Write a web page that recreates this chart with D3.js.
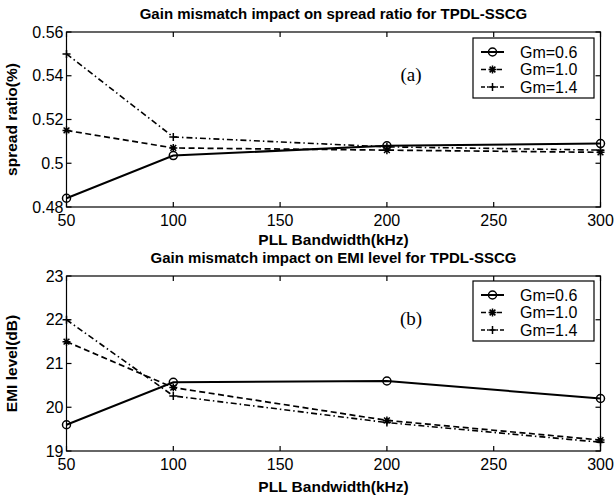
<!DOCTYPE html>
<html>
 <head>
   <title>Gain mismatch impact</title>
   <script type="text/javascript" src="https://d3js.org/d3.v7.min.js"></script>
   <style type="text/css">
		body { margin: 0; background: #fff; }
		svg { display: block; }
		text { font-family: "Liberation Sans", Arial, sans-serif; fill: #000; }
		.frame { fill: none; stroke: #000; stroke-width: 1.2; }
		.tick { stroke: #000; stroke-width: 1.2; }
		.series { fill: none; stroke: #000; }
		.mark { fill: none; stroke: #000; stroke-width: 1.5; }
   </style>
 </head>
 <body>
   <div class="main"></div>
   <script type="text/javascript">

	// data
	var bandwidth = [50, 100, 200, 300];
	var xTicks = [50, 100, 150, 200, 250, 300];
	var seriesNames = ['Gm=0.6', 'Gm=1.0', 'Gm=1.4'];

	var spreadGm06 = [0.484, 0.5035, 0.508, 0.509];
	var spreadGm10 = [0.515, 0.507, 0.506, 0.505];
	var spreadGm14 = [0.550, 0.512, 0.5075, 0.506];
	var spreadTicks = [0.48, 0.5, 0.52, 0.54, 0.56];

	var emiGm06 = [19.6, 20.57, 20.6, 20.2];
	var emiGm10 = [21.5, 20.45, 19.7, 19.25];
	var emiGm14 = [22.0, 20.26, 19.65, 19.2];
	var emiTicks = [19, 20, 21, 22, 23];

	var W = 615, H = 499;
	var left = 66.5, right = 600.5;
	var dashes = [null, '6,3.5', '6,3,1.5,3'];
	var markers = ['circle', 'star', 'plus'];
	var widths = [2, 1.7, 1.6];

	var svg = d3.select('.main').append('svg')
		.attr('width', W).attr('height', H);

	var x = d3.scaleLinear().domain([50, 300]).range([left, right]);

	drawPanel({
		top: 32, bottom: 207,
		domain: [0.48, 0.56], yTicks: spreadTicks,
		series: [spreadGm06, spreadGm10, spreadGm14],
		title: 'Gain mismatch impact on spread ratio for TPDL-SSCG', titleY: 14,
		ylabel: 'spread ratio(%)', xlabelY: 240,
		fmt: function(d) { return d === 0.5 ? '0.5' : d3.format('.2f')(d); },
		tag: '(a)', legendTop: 38
	});

	drawPanel({
		top: 276, bottom: 451,
		domain: [19, 23], yTicks: emiTicks,
		series: [emiGm06, emiGm10, emiGm14],
		title: 'Gain mismatch impact on EMI level for TPDL-SSCG', titleY: 258,
		ylabel: 'EMI level(dB)', xlabelY: 487,
		fmt: d3.format('d'),
		tag: '(b)', legendTop: 281
	});

	function drawPanel(p) {
		var y = d3.scaleLinear().domain(p.domain).range([p.bottom, p.top]);
		var g = svg.append('g');

		g.append('rect').attr('class', 'frame')
			.attr('x', left).attr('y', p.top)
			.attr('width', right - left).attr('height', p.bottom - p.top);

		// inward ticks on all four sides, matlab style
		var tl = 5;
		g.selectAll('line.xt').data(xTicks).enter().append('line')
			.attr('class', 'tick')
			.attr('x1', function(d) { return x(d) }).attr('x2', function(d) { return x(d) })
			.attr('y1', p.bottom).attr('y2', p.bottom - tl);
		g.selectAll('line.xt2').data(xTicks).enter().append('line')
			.attr('class', 'tick')
			.attr('x1', function(d) { return x(d) }).attr('x2', function(d) { return x(d) })
			.attr('y1', p.top).attr('y2', p.top + tl);
		g.selectAll('line.yt').data(p.yTicks).enter().append('line')
			.attr('class', 'tick')
			.attr('x1', left).attr('x2', left + tl)
			.attr('y1', function(d) { return y(d) }).attr('y2', function(d) { return y(d) });
		g.selectAll('line.yt2').data(p.yTicks).enter().append('line')
			.attr('class', 'tick')
			.attr('x1', right).attr('x2', right - tl)
			.attr('y1', function(d) { return y(d) }).attr('y2', function(d) { return y(d) });

		g.selectAll('text.xl').data(xTicks).enter().append('text')
			.attr('x', function(d) { return x(d) })
			.attr('y', p.bottom + 19)
			.attr('text-anchor', 'middle')
			.style('font-size', '16px')
			.text(function(d) { return d });
		g.selectAll('text.yl').data(p.yTicks).enter().append('text')
			.attr('x', left - 3)
			.attr('y', function(d) { return y(d) + 5.5 })
			.attr('text-anchor', 'end')
			.style('font-size', '16px')
			.text(p.fmt);

		g.append('text')
			.attr('x', (left + right) / 2).attr('y', p.titleY + 5)
			.attr('text-anchor', 'middle')
			.style('font-size', '15px').style('font-weight', 'bold')
			.text(p.title);
		g.append('text')
			.attr('x', (left + right) / 2).attr('y', p.xlabelY + 5)
			.attr('text-anchor', 'middle')
			.style('font-size', '15.5px').style('font-weight', 'bold')
			.text('PLL Bandwidth(kHz)');
		g.append('text')
			.attr('transform', 'translate(17,' + ((p.top + p.bottom) / 2) + ') rotate(-90)')
			.attr('text-anchor', 'middle')
			.style('font-size', '15.5px').style('font-weight', 'bold')
			.text(p.ylabel);

		g.append('text')
			.attr('x', 411).attr('y', p.top + 49)
			.attr('text-anchor', 'middle')
			.style('font-family', '"Liberation Serif", "Times New Roman", serif')
			.style('font-size', '19px')
			.text(p.tag);

		var line = d3.line()
			.x(function(d, i) { return x(bandwidth[i]) })
			.y(function(d) { return y(d) });

		p.series.forEach(function(vals, si) {
			g.append('path').attr('class', 'series')
				.attr('d', line(vals))
				.attr('stroke-width', widths[si])
				.attr('stroke-dasharray', dashes[si]);
			vals.forEach(function(v, i) {
				drawMarker(g, markers[si], x(bandwidth[i]), y(v));
			});
		});

		// legend
		var lx = 473, lw = 121, lh = 60, ly = p.legendTop;
		var lg = g.append('g');
		lg.append('rect')
			.attr('x', lx).attr('y', ly).attr('width', lw).attr('height', lh)
			.attr('fill', '#fff').attr('stroke', '#000').attr('stroke-width', 1.2);
		seriesNames.forEach(function(name, si) {
			var ry = ly + 14 + si * 17.5;
			lg.append('line').attr('class', 'series')
				.attr('x1', lx + 8).attr('x2', lx + 31)
				.attr('y1', ry).attr('y2', ry)
				.attr('stroke-width', widths[si])
				.attr('stroke-dasharray', si === 1 ? '5,3' : (si === 2 ? '4,2,1.5,2' : null));
			drawMarker(lg, markers[si], lx + 19.5, ry);
			lg.append('text')
				.attr('x', lx + 47).attr('y', ry + 5.5)
				.style('font-size', '16px')
				.text(name);
		});
	}

	function drawMarker(g, kind, cx, cy) {
		var r = 4;
		if (kind === 'circle') {
			g.append('circle').attr('class', 'mark')
				.attr('cx', cx).attr('cy', cy).attr('r', r);
		} else {
			var d = 'M' + (cx - r) + ',' + cy + 'H' + (cx + r) +
				'M' + cx + ',' + (cy - r) + 'V' + (cy + r);
			if (kind === 'star') {
				var k = r * 0.72;
				d += 'M' + (cx - k) + ',' + (cy - k) + 'L' + (cx + k) + ',' + (cy + k) +
					'M' + (cx - k) + ',' + (cy + k) + 'L' + (cx + k) + ',' + (cy - k);
			}
			g.append('path').attr('class', 'mark').attr('d', d);
		}
	}

   </script>
 </body>
</html>
